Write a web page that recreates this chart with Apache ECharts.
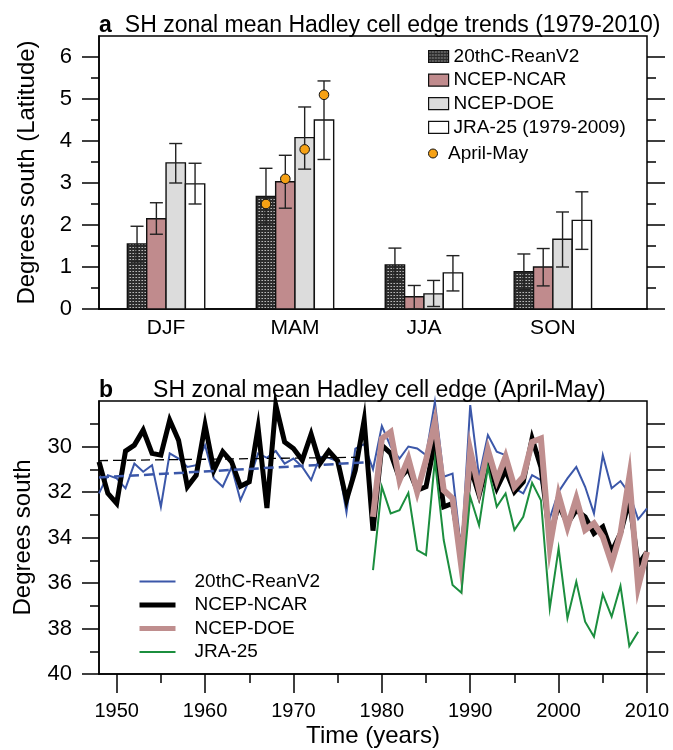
<!DOCTYPE html>
<html><head><meta charset="utf-8">
<script src="https://cdn.jsdelivr.net/npm/echarts@6/dist/echarts.min.js"></script>
<style>html,body{margin:0;padding:0;background:#fff}#c{width:673px;height:750px}</style>
</head><body><div id="c"></div>
<script>
// ---------- Panel a data ----------
const seasons = ['DJF', 'MAM', 'JJA', 'SON'];
const seasonPos = [1, 2, 3, 4];
const trend20C = [1.55, 2.68, 1.05, 0.89];
const err20C = [[1.12, 1.97], [2.02, 3.35], [0.67, 1.45], [0.46, 1.31]];
const trendNCAR = [2.15, 3.03, 0.29, 1.00];
const errNCAR = [[1.78, 2.53], [2.40, 3.66], [0.00, 0.56], [0.55, 1.44]];
const trendDOE = [3.48, 4.08, 0.36, 1.66];
const errDOE = [[3.00, 3.94], [3.33, 4.81], [0.06, 0.68], [1.00, 2.31]];
const trendJRA = [2.98, 4.50, 0.86, 2.11];
const errJRA = [[2.50, 3.47], [3.56, 5.43], [0.43, 1.27], [1.42, 2.79]];
const aprMayMAM = [2.50, 3.10, 3.80, 5.10];
const yTicksA = [0, 1, 2, 3, 4, 5, 6];
const yMinorA = [0.5, 1.5, 2.5, 3.5, 4.5, 5.5];

// ---------- Panel b data ----------
const yearsLong = [1948,1949,1950,1951,1952,1953,1954,1955,1956,1957,1958,1959,1960,1961,1962,1963,1964,1965,1966,1967,1968,1969,1970,1971,1972,1973,1974,1975,1976,1977,1978,1979,1980,1981,1982,1983,1984,1985,1986,1987,1988,1989,1990,1991,1992,1993,1994,1995,1996,1997,1998,1999,2000,2001,2002,2003,2004,2005,2006,2007,2008,2009,2010];
const edge20C = [32.06,31.26,31.40,31.84,30.75,31.11,30.82,32.65,30.30,30.53,30.90,30.82,29.94,31.40,31.77,30.90,32.36,31.48,30.30,30.50,30.20,30.75,30.53,30.90,31.48,30.45,30.50,30.65,32.90,30.09,29.90,31.00,29.10,30.00,30.53,30.00,30.09,30.38,28.04,31.33,31.19,34.63,28.18,31.33,29.50,30.23,30.38,31.84,32.06,31.26,31.48,33.16,31.99,31.40,30.90,31.77,32.94,30.38,31.84,31.52,32.06,33.20,32.72];
const edgeNCAR = [30.67,32.06,32.50,30.20,29.94,29.28,30.30,30.38,28.84,29.72,31.77,31.26,29.06,31.04,30.23,30.67,31.75,31.55,29.17,32.70,28.18,29.80,30.09,30.60,29.46,30.75,30.20,30.63,32.35,31.04,28.84,33.70,29.94,30.30,31.40,30.97,31.92,31.77,29.80,32.65,32.50,34.85,30.90,32.14,30.67,31.84,31.04,31.99,31.55,29.65,30.90,33.97,32.58,33.38,32.80,33.09,33.82,33.53,34.63,33.82,32.36,35.20,34.63];
const yearsDOE = [1979,1980,1981,1982,1983,1984,1985,1986,1987,1988,1989,1990,1991,1992,1993,1994,1995,1996,1997,1998,1999,2000,2001,2002,2003,2004,2005,2006,2007,2008,2009,2010];
const edgeDOE = [33.09,29.65,29.36,31.48,30.53,31.99,30.60,28.92,31.92,32.28,35.29,30.16,31.92,30.16,31.48,30.45,31.77,31.33,29.80,29.65,34.40,32.14,33.53,32.28,33.67,33.38,33.97,35.14,33.82,31.33,36.16,34.63];
const yearsJRA = [1979,1980,1981,1982,1983,1984,1985,1986,1987,1988,1989,1990,1991,1992,1993,1994,1995,1996,1997,1998,1999,2000,2001,2002,2003,2004,2005,2006,2007,2008,2009];
const edgeJRA = [35.43,31.77,32.94,32.80,32.04,34.55,34.77,30.60,34.11,36.09,36.43,32.21,33.46,30.90,32.65,32.06,33.67,33.09,31.60,32.36,37.12,34.48,37.55,35.94,37.70,38.36,36.49,37.48,36.13,38.77,38.14];
const trendYears = [1948, 1978];
const trendLineNCAR = [30.62, 30.47];
const trendLine20C = [31.36, 30.70];
const xTicksB = [1950, 1960, 1970, 1980, 1990, 2000, 2010];
const xMinorB = [1955, 1965, 1975, 1985, 1995, 2005];
const yTicksB = [30, 32, 34, 36, 38, 40];
const yMinorB = [29, 31, 33, 35, 37, 39];
const yRightB = [29, 30, 31, 32, 33, 34, 35, 36, 37, 38, 39, 40];

// ---------- styling ----------
const FONT = '"Liberation Sans", Arial, Helvetica, sans-serif';
const pc = document.createElement('canvas'); pc.width = 3; pc.height = 3;
const g = pc.getContext('2d');
g.fillStyle = '#2c2c2c'; g.fillRect(0, 0, 3, 3);
g.fillStyle = '#b8b8b8'; g.fillRect(1, 1, 1, 1);
g.fillStyle = '#7a7a7a'; g.fillRect(0, 1, 1, 1);
const pattern20C = { type: 'pattern', image: pc, repeat: 'repeat' };
const barFills = [pattern20C, '#c08b8d', '#dcdcdc', '#ffffff'];
const barNames = ['20thC-ReanV2', 'NCEP-NCAR', 'NCEP-DOE', 'JRA-25 (1979-2009)'];
const barVals = [trend20C, trendNCAR, trendDOE, trendJRA];
const barErrs = [err20C, errNCAR, errDOE, errJRA];
const BAR_FRAC = 0.15;

function barRender(k) {
  return function (params, api) {
    const x = api.value(0), v = api.value(1), lo = api.value(2), hi = api.value(3);
    const unit = api.size([1, 0])[0];
    const bw = unit * BAR_FRAC;
    const c0 = api.coord([x, 0]);
    const cv = api.coord([x, v]);
    const cx = c0[0] + (k - 1.5) * bw;
    const yl = api.coord([x, lo])[1], yh = api.coord([x, hi])[1];
    const cap = 6.5;
    const ls = { stroke: '#222', lineWidth: 1.4 };
    return { type: 'group', children: [
      { type: 'rect', shape: { x: cx - bw / 2, y: cv[1], width: bw, height: c0[1] - cv[1] },
        style: { fill: barFills[k], stroke: '#111', lineWidth: 1.4 } },
      { type: 'line', shape: { x1: cx, y1: yl, x2: cx, y2: yh }, style: ls },
      { type: 'line', shape: { x1: cx - cap, y1: yl, x2: cx + cap, y2: yl }, style: ls },
      { type: 'line', shape: { x1: cx - cap, y1: yh, x2: cx + cap, y2: yh }, style: ls }
    ]};
  };
}
function dotRender(params, api) {
  const x = api.value(0), v = api.value(1), k = api.value(2);
  const unit = api.size([1, 0])[0];
  const bw = unit * BAR_FRAC;
  const c = api.coord([x, v]);
  return { type: 'circle', shape: { cx: c[0] + (k - 1.5) * bw, cy: c[1], r: 4.8 },
    style: { fill: '#f6a114', stroke: '#111', lineWidth: 1 } };
}

const series = [];
for (let k = 0; k < 4; k++) {
  series.push({
    type: 'custom', name: barNames[k], xAxisIndex: 0, yAxisIndex: 0,
    renderItem: barRender(k), encode: { x: 0, y: 1 },
    itemStyle: { color: barFills[k], borderColor: '#111', borderWidth: 1.3 },
    data: seasonPos.map((p, i) => [p, barVals[k][i], barErrs[k][i][0], barErrs[k][i][1]]),
    silent: true, z: 2
  });
}
series.push({
  type: 'custom', name: 'April-May', xAxisIndex: 0, yAxisIndex: 0,
  renderItem: dotRender, encode: { x: 0, y: 1 },
  itemStyle: { color: '#f6a114', borderColor: '#111', borderWidth: 1 },
  data: aprMayMAM.map((v, k) => [seasonPos[1], v, k]), z: 5, silent: true
});

const lineNames = ['20thC-ReanV2 ', 'NCEP-NCAR ', 'NCEP-DOE ', 'JRA-25'];
const lineColors = ['#3b57a9', '#000000', '#bf8e8e', '#1b8e3e'];
const lineWidths = [2, 5, 6, 2];
const lineX = [yearsLong, yearsLong, yearsDOE, yearsJRA];
const lineY = [edge20C, edgeNCAR, edgeDOE, edgeJRA];
for (let k = 0; k < 4; k++) {
  series.push({ type: 'line', name: lineNames[k], xAxisIndex: 1, yAxisIndex: 4, showSymbol: false, symbol: 'none',
    data: lineX[k].map((x, i) => [x, lineY[k][i]]),
    lineStyle: { color: lineColors[k], width: lineWidths[k], join: 'miter' }, itemStyle: { color: lineColors[k] },
    z: 3 + k, silent: true, clip: false });
}
series.push({ type: 'line', name: 'trendNCAR', xAxisIndex: 1, yAxisIndex: 4, symbol: 'none',
  data: trendYears.map((x, i) => [x, trendLineNCAR[i]]), lineStyle: { color: '#000', width: 1.3, type: [9, 5] }, z: 7, silent: true });
series.push({ type: 'line', name: 'trend20C', xAxisIndex: 1, yAxisIndex: 4, symbol: 'none',
  data: trendYears.map((x, i) => [x, trendLine20C[i]]), lineStyle: { color: '#3b57a9', width: 2.5, type: [10, 5] }, z: 7, silent: true });

const lab = { color: '#000', fontFamily: FONT };
const axLine = { show: true, lineStyle: { color: '#000', width: 1.5 } };
function tickAxis(gridIndex, pos, vals, len, extra) {
  return Object.assign({
    type: 'value', gridIndex, position: pos, offset: 0, axisLine: { show: false },
    axisTick: { show: true, inside: false, length: len, customValues: vals, lineStyle: { color: '#000', width: 1.5 } },
    axisLabel: { show: false }, splitLine: { show: false }
  }, extra);
}

const option = {
  animation: false,
  textStyle: { fontFamily: FONT, color: '#000' },
  title: [
    { text: '{b|a}SH zonal mean Hadley cell edge trends (1979-2010)', left: 99, top: 14, padding: 0,
      textStyle: { fontSize: 23, fontWeight: 'normal', color: '#000', fontFamily: FONT,
        rich: { b: { fontWeight: 'bold', fontSize: 23, fontFamily: FONT, color: '#000', padding: [0, 13, 0, 0] } } } },
    { text: '{b|b}SH zonal mean Hadley cell edge (April-May)', left: 99, top: 379, padding: 0,
      textStyle: { fontSize: 23, fontWeight: 'normal', color: '#000', fontFamily: FONT,
        rich: { b: { fontWeight: 'bold', fontSize: 23, fontFamily: FONT, color: '#000', padding: [0, 40, 0, 0] } } } }
  ],
  grid: [
    { left: 99, top: 36, width: 548, height: 273, show: true, borderColor: '#000', borderWidth: 1.5, containLabel: false },
    { left: 99, top: 401, width: 548, height: 273, show: true, borderColor: '#000', borderWidth: 1.5, containLabel: false }
  ],
  xAxis: [
    { type: 'value', gridIndex: 0, position: 'bottom', offset: 0, min: 0.48, max: 4.73, axisLine: axLine, axisTick: { show: false }, splitLine: { show: false },
      axisLabel: Object.assign({ customValues: seasonPos, fontSize: 21, margin: 9, formatter: v => seasons[Math.round(v) - 1] }, lab) },
    { type: 'value', gridIndex: 1, position: 'bottom', offset: 0, min: 1948, max: 2010, axisLine: axLine, splitLine: { show: false },
      axisTick: { show: true, length: 19, customValues: xTicksB, lineStyle: { color: '#000', width: 1.5 } },
      axisLabel: Object.assign({ customValues: xTicksB, fontSize: 20, margin: 27, formatter: v => String(v) }, lab),
      name: 'Time (years)', nameLocation: 'middle', nameGap: 50, nameTextStyle: { fontSize: 24, color: '#000', fontFamily: FONT } },
    { type: 'value', gridIndex: 1, min: 1948, max: 2010, position: 'bottom', offset: 0, axisLine: { show: false }, splitLine: { show: false },
      axisTick: { show: true, length: 9, customValues: xMinorB, lineStyle: { color: '#000', width: 1.5 } }, axisLabel: { show: false } }
  ],
  yAxis: [
    { type: 'value', gridIndex: 0, position: 'left', offset: 0, min: 0, max: 6.5, axisLine: axLine, splitLine: { show: false },
      axisTick: { show: true, length: 17, customValues: yTicksA, lineStyle: { color: '#000', width: 1.5 } },
      axisLabel: Object.assign({ customValues: yTicksA, fontSize: 22, margin: 27, align: 'right' }, lab),
      name: 'Degrees south (Latitude)', nameLocation: 'middle', nameGap: 60, nameTextStyle: { fontSize: 24, color: '#000', fontFamily: FONT } },
    tickAxis(0, 'right', yTicksA, 18, { min: 0, max: 6.5 }),
    tickAxis(0, 'left', yMinorA, 8, { min: 0, max: 6.5 }),
    tickAxis(0, 'right', yMinorA, 9, { min: 0, max: 6.5 }),
    { type: 'value', gridIndex: 1, position: 'left', offset: 0, min: 28, max: 40, inverse: true, axisLine: axLine, splitLine: { show: false },
      axisTick: { show: true, length: 17, customValues: yTicksB, lineStyle: { color: '#000', width: 1.5 } },
      axisLabel: Object.assign({ customValues: yTicksB, fontSize: 22, margin: 27, align: 'right' }, lab),
      name: 'Degrees south', nameLocation: 'middle', nameGap: 64, nameTextStyle: { fontSize: 24, color: '#000', fontFamily: FONT } },
    tickAxis(1, 'left', yMinorB, 9, { min: 28, max: 40, inverse: true }),
    tickAxis(1, 'right', yRightB, 18, { min: 28, max: 40, inverse: true })
  ],
  legend: [
    { orient: 'vertical', left: 428, top: 47, padding: 0, itemWidth: 20, itemHeight: 12, itemGap: 4.6,
      textStyle: { fontSize: 19, lineHeight: 19, color: '#000', fontFamily: FONT }, selectedMode: false,
      data: barNames.map((n, k) => ({ name: n, icon: 'rect', itemStyle: { color: barFills[k], borderColor: '#111', borderWidth: 1.2 } })) },
    { orient: 'vertical', left: 428, top: 144, padding: 0, itemWidth: 20, itemHeight: 9, selectedMode: false,
      textStyle: { fontSize: 19, lineHeight: 19, color: '#000', fontFamily: FONT },
      data: [{ name: 'April-May', icon: 'circle', itemStyle: { color: '#f6a114', borderColor: '#111', borderWidth: 1 } }] },
    { orient: 'vertical', left: 137, top: 572, padding: 0, itemWidth: 36, itemHeight: 2, itemGap: 4.5, selectedMode: false,
      itemStyle: { opacity: 0 },
      textStyle: { fontSize: 19, lineHeight: 19, color: '#000', fontFamily: FONT, padding: [0, 0, 0, 14] },
      data: lineNames.map((n, k) => ({ name: n, itemStyle: { opacity: 0 },
        lineStyle: { color: lineColors[k], width: lineWidths[k] === 6 ? 5 : lineWidths[k], opacity: 1 } })) }
  ],
  series
};
const chart = echarts.init(document.getElementById('c'), null, { renderer: 'canvas' });
chart.setOption(option);
</script>
</body></html>
